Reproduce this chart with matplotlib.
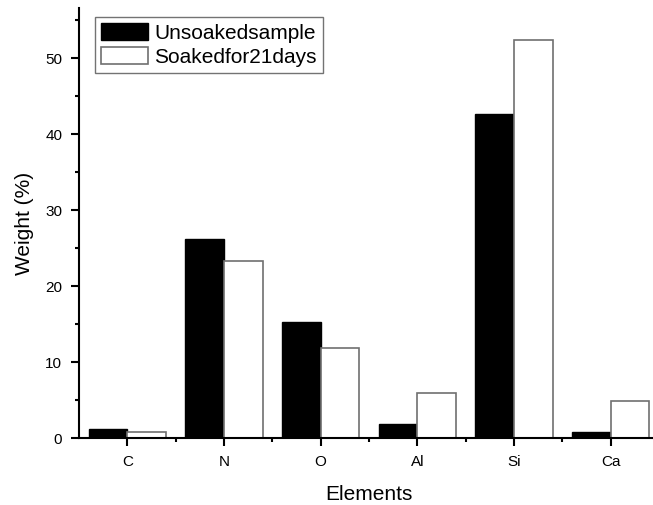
import numpy as np
import matplotlib.pyplot as plt
from matplotlib.ticker import MultipleLocator, FixedLocator

plt.rcParams['font.family'] = ['Liberation Sans', 'DejaVu Sans']

elements = ['C', 'N', 'O', 'Al', 'Si', 'Ca']
unsoaked = [1.2, 26.2, 15.3, 1.9, 42.6, 0.8]
soaked = [0.8, 23.3, 11.9, 5.9, 52.4, 4.9]

fig = plt.figure(figsize=(6.53, 5.05), dpi=100)
ax = fig.add_axes([79 / 653, 67 / 505, 580 / 653, 430 / 505])

x = np.arange(1, len(elements) + 1)
w = 0.4
ax.bar(x - w / 2, unsoaked, w, color='black', edgecolor='black', linewidth=1,
       label='Unsoakedsample')
ax.bar(x + w / 2, soaked, w, color='white', edgecolor='#707070', linewidth=1.2,
       label='Soakedfor21days')

ax.set_xlim(0.5, 6.5)
ax.set_ylim(0, 56.6)
ax.set_xticks(x)
ax.set_xticklabels(elements)
ax.xaxis.set_minor_locator(FixedLocator(np.arange(1.5, 6.5, 1)))
ax.yaxis.set_major_locator(MultipleLocator(10))
ax.yaxis.set_minor_locator(MultipleLocator(5))

for side in ['top', 'right']:
    ax.spines[side].set_visible(False)
for side in ['left', 'bottom']:
    ax.spines[side].set_linewidth(1.5)
ax.tick_params(which='major', direction='out', length=6, width=1.5, labelsize=11)
ax.tick_params(axis='y', which='major', pad=6)
ax.tick_params(axis='x', which='major', pad=6)
ax.tick_params(which='minor', direction='out', length=3, width=1.5)

ax.set_xlabel('Elements', fontsize=15, labelpad=12)
ax.set_ylabel('Weight (%)', fontsize=15, labelpad=8)

ax.legend(loc='upper left', bbox_to_anchor=(0.0276, 0.979), fontsize=15,
          frameon=True, fancybox=False, edgecolor='#505050',
          handlelength=2.25, handleheight=0.87, borderpad=0.3,
          labelspacing=0.2, handletextpad=0.3, borderaxespad=0)

plt.savefig('out.png', dpi=100)
